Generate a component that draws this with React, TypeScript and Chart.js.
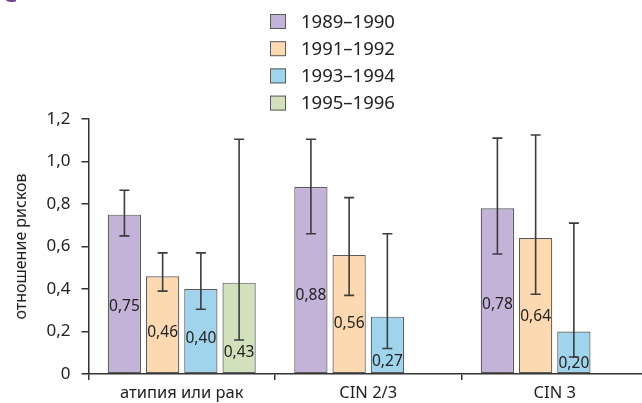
import React, { useEffect, useRef } from "react";
import { Chart, registerables } from "chart.js";

Chart.register(...registerables);

const FONT = "'Noto Sans', 'DejaVu Sans', sans-serif";

const categories = ["атипия или рак", "CIN 2/3", "CIN 3"];
const seriesNames = ["1989–1990", "1991–1992", "1993–1994", "1995–1996"];

const values1989 = [0.75, 0.88, 0.78];
const values1991 = [0.46, 0.56, 0.64];
const values1993 = [0.4, 0.27, 0.2];
const values1995 = [0.43, null, null];

const low1989 = [0.65, 0.66, 0.565];
const high1989 = [0.865, 1.105, 1.11];
const low1991 = [0.39, 0.37, 0.375];
const high1991 = [0.57, 0.83, 1.125];
const low1993 = [0.305, 0.12, 0.08];
const high1993 = [0.57, 0.66, 0.71];
const low1995 = [0.16, null, null];
const high1995 = [1.105, null, null];

const yTicks = [0, 0.2, 0.4, 0.6, 0.8, 1.0, 1.2];

const fills = ["#c4b3d8", "#fdd9b1", "#a0d4ec", "#d1e1bb"];
const BORDER = "#5a5a5a";
const AXIS = "#333333";
const TEXT = "#222222";

const seriesValues = [values1989, values1991, values1993, values1995];
const seriesLow = [low1989, low1991, low1993, low1995];
const seriesHigh = [high1989, high1991, high1993, high1995];

const fmt = (v: number, d: number) => (v === 0 ? "0" : v.toFixed(d).replace(".", ","));

const barExtras = {
  id: "barExtras",
  afterDatasetsDraw(chart: any) {
    const ctx = chart.ctx;
    const y = chart.scales.y;
    const base = y.getPixelForValue(0);
    chart.data.datasets.forEach((ds: any, i: number) => {
      const meta = chart.getDatasetMeta(i);
      meta.data.forEach((el: any, j: number) => {
        const v = ds.data[j];
        if (v == null) return;
        const lo = seriesLow[i][j];
        const hi = seriesHigh[i][j];
        const loPx = y.getPixelForValue(lo);
        const hiPx = y.getPixelForValue(hi);
        // value label
        const h = base - el.y;
        const a = base - 0.42 * h;
        const b = loPx + 13;
        const ly = Math.min(base - 10, Math.max(a, b));
        ctx.save();
        ctx.font = `15.5px ${FONT}`;
        ctx.fillStyle = TEXT;
        ctx.textAlign = "center";
        ctx.textBaseline = "middle";
        ctx.fillText(fmt(v, 2), el.x, ly);
        ctx.restore();
        // error bar
        ctx.save();
        ctx.strokeStyle = "#3c3c3c";
        ctx.lineWidth = 1.6;
        ctx.beginPath();
        ctx.moveTo(el.x, hiPx);
        ctx.lineTo(el.x, loPx);
        ctx.moveTo(el.x - 5, hiPx);
        ctx.lineTo(el.x + 5, hiPx);
        ctx.moveTo(el.x - 5, loPx);
        ctx.lineTo(el.x + 5, loPx);
        ctx.stroke();
        ctx.restore();
      });
    });
  },
};

const listLegend = {
  id: "listLegend",
  afterDraw(chart: any) {
    const ctx = chart.ctx;
    const x0 = chart.width / 2 - 55;
    const y0 = 21.5;
    const step = 27.2;
    chart.data.datasets.forEach((ds: any, i: number) => {
      const cy = y0 + i * step;
      ctx.save();
      ctx.fillStyle = ds.backgroundColor;
      ctx.strokeStyle = BORDER;
      ctx.lineWidth = 1;
      ctx.fillRect(x0, cy - 7.5, 16, 15);
      ctx.strokeRect(x0 + 0.5, cy - 7, 15, 14);
      ctx.font = `18.5px ${FONT}`;
      ctx.fillStyle = TEXT;
      ctx.textAlign = "left";
      ctx.textBaseline = "middle";
      ctx.fillText(ds.label, x0 + 31, cy + 1);
      ctx.restore();
    });
  },
};

export default function App() {
  const ref = useRef<HTMLCanvasElement | null>(null);

  useEffect(() => {
    if (!ref.current) return;
    const chart = new Chart(ref.current, {
      type: "bar",
      data: {
        labels: categories,
        datasets: seriesNames.map((name, i) => ({
          label: name,
          data: seriesValues[i] as any,
          backgroundColor: fills[i],
          borderColor: BORDER,
          borderWidth: 1.2,
          borderSkipped: false,
          categoryPercentage: 0.82,
          barPercentage: 0.87,
        })),
      },
      options: {
        responsive: false,
        animation: false,
        layout: { padding: { top: 119, right: 2, left: 0, bottom: 0 } },
        plugins: {
          legend: { display: false },
          tooltip: { enabled: false },
        },
        scales: {
          x: {
            offset: true,
            grid: {
              offset: true,
              drawOnChartArea: false,
              drawTicks: true,
              tickLength: 6,
              color: AXIS,
              lineWidth: 1.5,
            },
            border: { color: AXIS, width: 1.5 },
            ticks: { font: { size: 16.5, family: FONT }, color: TEXT, padding: 3 },
            afterFit: (s: any) => {
              s.height = 29;
            },
          },
          y: {
            min: 0,
            max: 1.2,
            afterBuildTicks: (s: any) => {
              s.ticks = yTicks.map((v) => ({ value: v }));
            },
            ticks: {
              callback: (v: any) => fmt(Number(v), 1),
              font: { size: 17, family: FONT },
              color: TEXT,
              padding: 11,
            },
            grid: {
              drawOnChartArea: false,
              drawTicks: true,
              tickLength: 7,
              color: AXIS,
              lineWidth: 1.5,
            },
            border: { color: AXIS, width: 1.5 },
            title: {
              display: true,
              text: "отношение рисков",
              font: { size: 16, family: FONT },
              color: TEXT,
              padding: { top: 12, bottom: 0 },
            },
            afterFit: (s: any) => {
              s.width = 88.5;
            },
          },
        },
      },
      plugins: [barExtras, listLegend],
    });
    return () => chart.destroy();
  }, []);

  return (
    <div
      style={{
        position: "absolute",
        left: 0,
        top: 0,
        width: 642,
        height: 403,
        overflow: "hidden",
        background: "#fff",
      }}
    >
      <div
        style={{
          position: "absolute",
          left: 2,
          top: -24,
          fontFamily: FONT,
          fontWeight: 700,
          fontSize: 24,
          color: "#7b3f98",
        }}
      >
        С
      </div>
      <canvas ref={ref} width={650} height={403} style={{ width: 650, height: 403, display: "block" }} />
    </div>
  );
}
